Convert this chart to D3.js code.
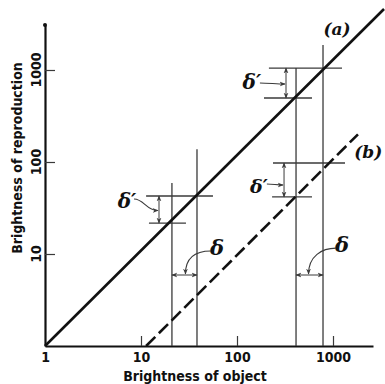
<!DOCTYPE html>
<html>
<head>
<meta charset="utf-8">
<script src="https://cdn.jsdelivr.net/npm/d3@7"></script>
<style>
  html, body { margin: 0; padding: 0; background: #fff; }
  svg { display: block; }
  .lbl { font-family: "DejaVu Sans Condensed", "DejaVu Sans", sans-serif; font-weight: bold; font-stretch: condensed; fill: #111; }
  .sym { font-family: "DejaVu Serif", serif; font-weight: bold; font-style: italic; fill: #111; }
</style>
</head>
<body>
<svg id="chart" width="385" height="384"></svg>
<script>
// ---------------- data ----------------
const xTicks = [1, 10, 100, 1000];
const yTicks = [10, 100, 1000];
const xTitle = "Brightness of object";
const yTitle = "Brightness of reproduction";

// characteristic (a): solid, characteristic (b): dashed
const lineA = [[1, 1], [3400, 4600]];
const lineB = [[11.3, 1], [1820, 200]];

// vertical construction lines (object brightness, top end)
const verticalX   = [21.0, 38.3, 412, 787];
const verticalTop = [59.1, 138, 1050, 1870];

// horizontal construction lines (reproduction brightness, from x0 to x1)
const horizY  = [42.7, 21.7, 1050, 496, 97.5, 41.7];
const horizX0 = [11.3, 12.1, 215, 191, 237, 232];
const horizX1 = [56.2, 29.4, 1241, 604, 1334, 604];

// δ' double arrows (vertical): at x, from y0 to y1
const dPrimeX  = [15.4, 324, 309];
const dPrimeY0 = [21.7, 496, 41.7];
const dPrimeY1 = [42.7, 1050, 97.5];

// δ double arrows (horizontal): at y, from x0 to x1
const deltaY  = [5.91, 5.91];
const deltaX0 = [21.0, 412];
const deltaX1 = [38.3, 787];

// annotation labels
const annText = ["δ′", "δ′", "δ′", "δ", "δ", "(a)", "(b)"];
const annX    = [7.15, 143, 169, 61.9, 1241, 1101, 2330];
const annY    = [37.7, 741, 54.8, 11.9, 12.8, 2790, 128];

// ---------------- layout ----------------
const Dx = 96, Dy = 92;           // pixels per decade
const x0p = 45, y0p = 346;
const x = d3.scaleLog().domain([1, Math.pow(10, (373 - x0p) / Dx)]).range([x0p, 373]);
const y = d3.scaleLog().domain([1, Math.pow(10, (y0p - 25) / Dy)]).range([y0p, 25]);

const svg = d3.select("#chart");
const ink = "#111";
const thin = "#3a3a3a";

// markers
const defs = svg.append("defs");
defs.append("marker")
  .attr("id", "ah").attr("viewBox", "0 0 10 10").attr("refX", 9).attr("refY", 5)
  .attr("markerWidth", 6).attr("markerHeight", 6).attr("markerUnits", "userSpaceOnUse")
  .attr("orient", "auto-start-reverse")
  .append("path").attr("d", "M0,1 L10,5 L0,9 L3,5 Z").attr("fill", thin);

// axes
const gx = svg.append("g").attr("transform", `translate(0,${y0p})`)
  .call(d3.axisBottom(x).tickValues(xTicks).tickSizeInner(-10).tickSizeOuter(0)
    .tickPadding(6).tickFormat(d3.format("d")));
gx.select(".domain").attr("stroke", ink).attr("stroke-width", 2.2);
gx.selectAll(".tick line").attr("stroke", thin).attr("stroke-width", 1.2);
gx.selectAll(".tick").filter(d => d === 1).select("line").remove();
gx.selectAll(".tick text").attr("class", "lbl").attr("font-size", 14).attr("fill", ink)
  .style("font-family", '"DejaVu Sans Condensed","DejaVu Sans",sans-serif').style("font-weight", "bold");

const gy = svg.append("g").attr("transform", `translate(${x0p},0)`)
  .call(d3.axisLeft(y).tickValues(yTicks).tickSizeInner(-10).tickSizeOuter(0).tickFormat(""));
gy.select(".domain").attr("stroke", ink).attr("stroke-width", 2.2);
gy.selectAll(".tick line").attr("stroke", thin).attr("stroke-width", 1.2);
gy.selectAll(".tick text").remove();
svg.append("circle").attr("cx", x0p).attr("cy", y.range()[1]).attr("r", 2).attr("fill", ink);

svg.selectAll(".ytl").data(yTicks).join("text")
  .attr("class", "lbl").attr("font-size", 14)
  .attr("transform", d => `translate(36,${y(d)}) rotate(-90)`)
  .attr("text-anchor", "middle").attr("dominant-baseline", "central")
  .text(d => d3.format("d")(d));

// titles
svg.append("text").attr("class", "lbl").attr("font-size", 14)
  .attr("x", 195).attr("y", 381).attr("text-anchor", "middle").text(xTitle);
svg.append("text").attr("class", "lbl").attr("font-size", 14)
  .attr("transform", `translate(17,158) rotate(-90)`)
  .attr("text-anchor", "middle").attr("dominant-baseline", "central").text(yTitle);

// construction lines
svg.selectAll(".vl").data(verticalX).join("line")
  .attr("x1", d => x(d)).attr("x2", d => x(d))
  .attr("y1", (d, i) => y(verticalTop[i])).attr("y2", y0p)
  .attr("stroke", thin).attr("stroke-width", 1.3);
svg.selectAll(".hl").data(horizY).join("line")
  .attr("y1", d => y(d)).attr("y2", d => y(d))
  .attr("x1", (d, i) => x(horizX0[i])).attr("x2", (d, i) => x(horizX1[i]))
  .attr("stroke", thin).attr("stroke-width", 1.3);

// double arrows
svg.selectAll(".dpa").data(dPrimeX).join("line")
  .attr("x1", d => x(d)).attr("x2", d => x(d))
  .attr("y1", (d, i) => y(dPrimeY0[i])).attr("y2", (d, i) => y(dPrimeY1[i]))
  .attr("stroke", thin).attr("stroke-width", 1)
  .attr("marker-start", "url(#ah)").attr("marker-end", "url(#ah)");
svg.selectAll(".da").data(deltaY).join("line")
  .attr("y1", d => y(d)).attr("y2", d => y(d))
  .attr("x1", (d, i) => x(deltaX0[i])).attr("x2", (d, i) => x(deltaX1[i]))
  .attr("stroke", thin).attr("stroke-width", 1)
  .attr("marker-start", "url(#ah)").attr("marker-end", "url(#ah)");

// characteristic lines
const line = d3.line().x(d => x(d[0])).y(d => y(d[1]));
svg.append("path").attr("d", line(lineA)).attr("fill", "none")
  .attr("stroke", ink).attr("stroke-width", 2.6);
svg.append("path").attr("d", line(lineB)).attr("fill", "none")
  .attr("stroke", ink).attr("stroke-width", 2.6).attr("stroke-dasharray", "13,5");

// labels
const sizes = [20, 20, 19, 21, 21, 17, 17];
svg.selectAll(".ann").data(annText).join("text")
  .attr("class", "sym")
  .attr("x", (d, i) => x(annX[i])).attr("y", (d, i) => y(annY[i]))
  .attr("font-size", (d, i) => sizes[i])
  .attr("text-anchor", "middle").attr("dominant-baseline", "central")
  .text(d => d);

// leader curves from labels to arrows
function leader(lx, ly, tx, ty, c1, c2) {
  const p = d3.path();
  p.moveTo(lx, ly);
  p.bezierCurveTo(c1[0], c1[1], c2[0], c2[1], tx, ty);
  return p.toString();
}
const L = [];
// δ' left -> vertical arrow
{ const sx = x(annX[0]) + 7, sy = y(annY[0]) - 2, tx = x(dPrimeX[0]) - 1, ty = (y(dPrimeY0[0]) + y(dPrimeY1[0])) / 2 + 1;
  L.push(leader(sx, sy, tx, ty, [sx + 10, sy], [tx - 12, ty])); }
// δ' upper right
{ const sx = x(annX[1]) + 8, sy = y(annY[1]) + 1, tx = x(dPrimeX[1]) - 1, ty = (y(dPrimeY0[1]) + y(dPrimeY1[1])) / 2 + 1;
  L.push(leader(sx, sy, tx, ty, [sx + 8, sy], [tx - 8, ty])); }
// δ' lower right
{ const sx = x(annX[2]) + 8, sy = y(annY[2]) - 2, tx = x(dPrimeX[2]) - 1, ty = sy + 1;
  L.push(leader(sx, sy, tx, ty, [sx + 5, sy], [tx - 5, ty])); }
// δ left -> horizontal arrow
{ const sx = x(annX[3]) - 6, sy = y(annY[3]) + 4, tx = (x(deltaX0[0]) + x(deltaX1[0])) / 2 + 1, ty = y(deltaY[0]) - 1;
  L.push(leader(sx, sy, tx, ty, [sx - 14, sy], [tx, ty - 18])); }
// δ right
{ const sx = x(annX[4]) - 6, sy = y(annY[4]) + 4, tx = (x(deltaX0[1]) + x(deltaX1[1])) / 2 - 1, ty = y(deltaY[1]) - 1;
  L.push(leader(sx, sy, tx, ty, [sx - 14, sy], [tx, ty - 18])); }
svg.selectAll(".lead").data(L).join("path")
  .attr("d", d => d).attr("fill", "none").attr("stroke", thin).attr("stroke-width", 1.1)
  .attr("marker-end", "url(#ah)");
</script>
</body>
</html>
